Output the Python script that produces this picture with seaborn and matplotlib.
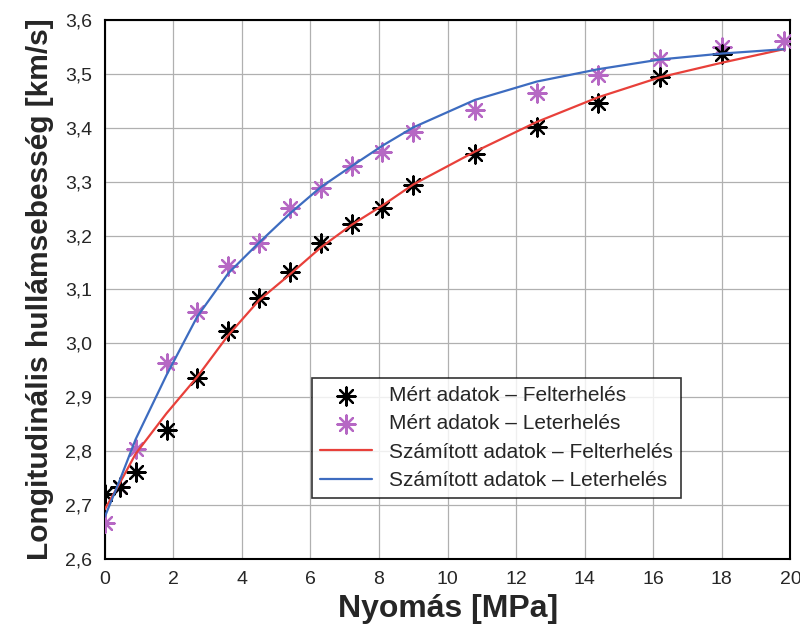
import matplotlib
matplotlib.use("Agg")
import matplotlib.pyplot as plt
import matplotlib.ticker as mticker
import seaborn as sns

# Nyomás [MPa]
p_fel = [0, 0.45, 0.9, 1.8, 2.7, 3.6, 4.5, 5.4, 6.3, 7.2, 8.1, 9.0, 10.8, 12.6, 14.4, 16.2, 18.0]
p_le = [0, 0.45, 0.9, 1.8, 2.7, 3.6, 4.5, 5.4, 6.3, 7.2, 8.1, 9.0, 10.8, 12.6, 14.4, 16.2, 18.0, 19.8]
p_calc = [0, 0.45, 0.9, 1.8, 2.7, 3.6, 4.5, 5.4, 6.3, 7.2, 8.1, 9.0, 10.8, 12.6, 14.4, 16.2, 18.0, 19.8]

# mért adatok [km/s]
v_fel = [2.720, 2.734, 2.762, 2.839, 2.936, 3.022, 3.084, 3.133, 3.186, 3.221, 3.251,
         3.294, 3.351, 3.402, 3.447, 3.495, 3.538]
v_le = [2.666, 2.734, 2.804, 2.963, 3.059, 3.144, 3.187, 3.251, 3.288, 3.329, 3.355,
        3.393, 3.434, 3.464, 3.498, 3.527, 3.550, 3.562]

# számított adatok [km/s]
v_fel_calc = [2.692, 2.742, 2.795, 2.870, 2.938, 3.015, 3.080, 3.128, 3.178, 3.220, 3.256,
              3.295, 3.356, 3.411, 3.457, 3.494, 3.521, 3.546]
v_le_calc = [2.678, 2.748, 2.822, 2.941, 3.050, 3.130, 3.187, 3.241, 3.290, 3.329, 3.367,
             3.401, 3.452, 3.486, 3.509, 3.527, 3.538, 3.546]

sns.set_style("white")
plt.rcParams["font.family"] = ["Liberation Sans", "DejaVu Sans"]

fig = plt.figure(figsize=(8, 6.3), dpi=100)
ax = fig.add_axes([0.131, 0.113, 0.857, 0.855])

star = (8, 2, 0)
sns.scatterplot(x=p_fel, y=v_fel, ax=ax, marker=star, s=170, color="black",
                linewidth=1.6, label="Mért adatok – Felterhelés", zorder=4)
sns.scatterplot(x=p_le, y=v_le, ax=ax, marker=star, s=170, color="#b668c4",
                linewidth=1.6, label="Mért adatok – Leterhelés", zorder=3)
sns.lineplot(x=p_calc, y=v_fel_calc, ax=ax, color="#e8403a", linewidth=1.6,
             label="Számított adatok – Felterhelés", zorder=5)
sns.lineplot(x=p_calc, y=v_le_calc, ax=ax, color="#3d6cc0", linewidth=1.6,
             label="Számított adatok – Leterhelés", zorder=5)

ax.set_xlim(0, 20)
ax.set_ylim(2.6, 3.6)
ax.set_xticks(range(0, 21, 2))
ax.set_yticks([2.6 + 0.1 * i for i in range(11)])
ax.yaxis.set_major_formatter(mticker.FuncFormatter(lambda v, _: f"{v:.1f}".replace(".", ",")))
ax.tick_params(direction="in", length=5, width=1, labelsize=14, color="black", pad=9)
ax.grid(True, color="#b0b0b0", linewidth=0.9)
for sp in ax.spines.values():
    sp.set_color("black")
    sp.set_linewidth(1.5)

ax.set_xlabel("Nyomás [MPa]", fontsize=23, fontweight="bold", labelpad=4)
ax.set_ylabel("Longitudinális hullámsebesség [km/s]", fontsize=21.5, fontweight="bold", labelpad=8)

handles, labels = ax.get_legend_handles_labels()
leg = ax.legend(handles, labels, loc="lower left", bbox_to_anchor=(0.302, 0.112),
                fontsize=15, frameon=True, fancybox=False, borderpad=0.4,
                handlelength=2.5, labelspacing=0.45, borderaxespad=0)
leg.get_frame().set_edgecolor("black")
leg.get_frame().set_linewidth(1.2)

fig.savefig("out.png", dpi=100)
